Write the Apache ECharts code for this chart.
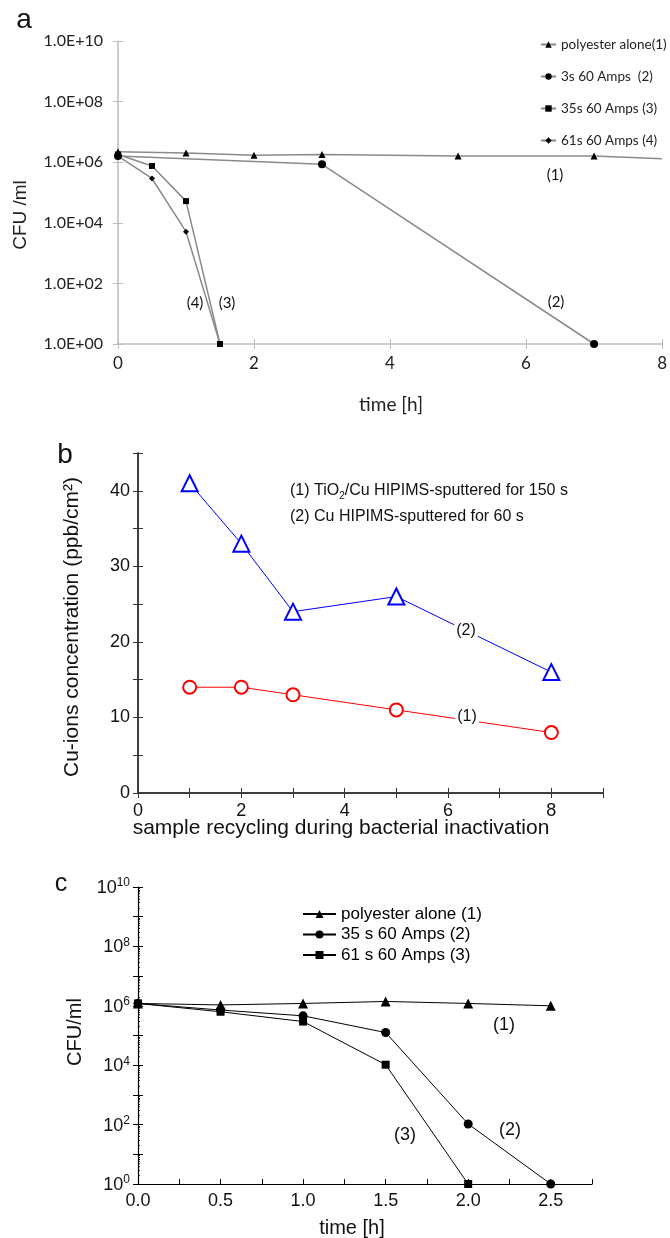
<!DOCTYPE html>
<html><head><meta charset="utf-8">
<script src="https://cdn.jsdelivr.net/npm/echarts@6/dist/echarts.min.js"></script>
<style>html,body{margin:0;padding:0;background:#fff}#chart{width:670px;height:1238px}</style>
</head><body><div id="chart"></div>
<script>
// ---------------- DATA ----------------
// Panel a : CFU/ml vs time [h]
const aNames = ['polyester alone(1)', '3s 60 Amps  (2)', '35s 60 Amps (3)', '61s 60 Amps (4)'];
const aTime1 = [0, 1, 2, 3, 5, 7, 8];
const aCfu1  = [2.2e6, 2.0e6, 1.7e6, 1.8e6, 1.6e6, 1.6e6, 1.3e6];
const aTime2 = [0, 3, 7];
const aCfu2  = [1.6e6, 8.5e5, 1];
const aTime3 = [0, 0.5, 1, 1.5];
const aCfu3  = [1.8e6, 7.5e5, 5.2e4, 1];
const aTime4 = [0, 0.5, 1, 1.5];
const aCfu4  = [1.6e6, 2.9e5, 5.1e3, 1];
const aYTicks = [0, 2, 4, 6, 8, 10];           // exponents labelled 1.0E+xx

// Panel b : Cu-ions concentration vs recycling
const bCycles = [1, 2, 3, 5, 8];
const bTiO2Cu = [14, 14, 13, 11, 8];
const bCu     = [41, 33, 24, 26, 16];

// Panel c : CFU/ml vs time [h]
const cNames = ['polyester alone (1)', '35 s 60 Amps (2)', '61 s 60 Amps (3)'];
const cTime1 = [0, 0.5, 1, 1.5, 2, 2.5];
const cCfu1  = [1.2e6, 1.07e6, 1.2e6, 1.4e6, 1.2e6, 1.0e6];
const cTime2 = [0, 0.5, 1, 1.5, 2, 2.5];
const cCfu2  = [1.2e6, 7.2e5, 4.6e5, 1.26e5, 105, 1];
const cTime3 = [0, 0.5, 1, 1.5, 2];
const cCfu3  = [1.2e6, 6.3e5, 2.95e5, 1.04e4, 1];

// ---------------- HELPERS ----------------
const NARROW = 'Lato,"Liberation Sans",sans-serif';
const SANS = '"Liberation Sans",Arial,Helvetica,sans-serif';
const logPairs = (xs, ys) => xs.map((x, i) => [x, Math.log10(ys[i])]);
const linPairs = (xs, ys) => xs.map((x, i) => [x, ys[i]]);
const minorLogs = [];
for (let d = 0; d < 10; d++) for (let k = 2; k <= 9; k++) minorLogs.push(d + Math.log10(k));

const A_AXIS = '#bdbdbd', A_LINE = '#8a8a8a';
const B_AXIS = '#333';

function aSeries(name, xs, ys, symbol, size, dropLastSymbol) {
  const pts = logPairs(xs, ys);
  const data = pts.map((p, i) => (dropLastSymbol && i === pts.length - 1) ? {value: p, symbol: 'none'} : p);
  return {type: 'line', name, xAxisIndex: 0, yAxisIndex: 0, data, symbol, symbolSize: size,
    lineStyle: {color: A_LINE, width: 1.5}, itemStyle: {color: '#000'}, silent: true, animation: false, z: 3};
}
function cSeries(name, xs, ys, symbol, size) {
  return {type: 'line', name, xAxisIndex: 4, yAxisIndex: 4, data: logPairs(xs, ys), symbol, symbolSize: size,
    lineStyle: {color: '#000', width: 1}, itemStyle: {color: '#000'}, silent: true, animation: false, z: 3};
}
function text(x, y, str, font, size, opts) {
  return Object.assign({type: 'text', x, y, z: 100, silent: true,
    style: Object.assign({text: str, fontFamily: font, fontSize: size, fill: '#111', align: 'center', verticalAlign: 'middle'}, (opts && opts.style) || {})},
    opts && opts.el ? opts.el : {});
}

const chart = echarts.init(document.getElementById('chart'), null, {renderer: 'canvas'});
const option = {
  animation: false,
  backgroundColor: '#fff',
  grid: [
    {left: 118, top: 41, width: 547, height: 303},
    {left: 138, top: 453, width: 465, height: 340},
    {left: 138, top: 887, width: 454, height: 297}
  ],
  xAxis: [
    // a main
    {gridIndex: 0, type: 'value', position: 'bottom', min: 0, max: 8, interval: 2,
      axisLine: {show: true, lineStyle: {color: A_AXIS, width: 1.5}},
      axisTick: {show: true, length: 5, lineStyle: {color: A_AXIS, width: 1}},
      axisLabel: {fontFamily: NARROW, fontSize: 17, color: '#222', margin: 11},
      splitLine: {show: false}},
    // a overlay (inside ticks)
    {gridIndex: 0, type: 'value', position: 'bottom', offset: 0, min: 0, max: 8, interval: 2,
      axisLine: {show: false}, axisTick: {show: true, inside: true, length: 5, lineStyle: {color: A_AXIS, width: 1}},
      axisLabel: {show: false}, splitLine: {show: false}},
    // b bottom
    {gridIndex: 1, type: 'value', position: 'bottom', min: 0, max: 9, interval: 1,
      axisLine: {show: true, lineStyle: {color: B_AXIS, width: 1.5}},
      axisTick: {show: true, inside: true, length: 5, lineStyle: {color: B_AXIS, width: 1}},
      axisLabel: {formatter: v => (v % 2 === 0 ? String(v) : ''), fontFamily: SANS, fontSize: 18, color: '#111', margin: 9},
      splitLine: {show: false}},
    // b top
    {gridIndex: 1, type: 'value', position: 'top', min: 0, max: 9, interval: 1,
      axisLine: {show: true, lineStyle: {color: B_AXIS, width: 1.5}},
      axisTick: {show: true, inside: true, length: 5, lineStyle: {color: B_AXIS, width: 1}},
      axisLabel: {show: false}, splitLine: {show: false}},
    // c
    {gridIndex: 2, type: 'value', position: 'bottom', min: 0, max: 2.75, interval: 0.25,
      axisLine: {show: true, lineStyle: {color: '#000', width: 1.2}},
      axisTick: {show: true, inside: true, length: 5, lineStyle: {color: '#000', width: 1}},
      axisLabel: {formatter: v => (Math.abs(v * 2 - Math.round(v * 2)) < 1e-6 && v <= 2.5001 ? v.toFixed(1) : ''),
        fontFamily: SANS, fontSize: 18, color: '#111', margin: 8},
      splitLine: {show: false}}
  ],
  yAxis: [
    // a main
    {gridIndex: 0, type: 'value', position: 'left', min: 0, max: 10, interval: 2,
      axisLine: {show: true, lineStyle: {color: A_AXIS, width: 1.5}},
      axisTick: {show: true, length: 5, lineStyle: {color: A_AXIS, width: 1}},
      axisLabel: {formatter: v => (aYTicks.indexOf(v) >= 0 ? '1.0E+' + String(v).padStart(2, '0') : ''),
        fontFamily: NARROW, fontSize: 16, color: '#222', margin: 15},
      splitLine: {show: false}},
    // a overlay
    {gridIndex: 0, type: 'value', position: 'left', offset: 0, min: 0, max: 10, interval: 2,
      axisLine: {show: false}, axisTick: {show: true, inside: true, length: 5, lineStyle: {color: A_AXIS, width: 1}},
      axisLabel: {show: false}, splitLine: {show: false}},
    // b left
    {gridIndex: 1, type: 'value', position: 'left', min: 0, max: 45, interval: 5,
      axisLine: {show: true, lineStyle: {color: B_AXIS, width: 1.5}},
      axisTick: {show: true, inside: true, length: 5, lineStyle: {color: B_AXIS, width: 1}},
      axisLabel: {formatter: v => (v % 10 === 0 ? String(v) : ''), fontFamily: SANS, fontSize: 18, color: '#111', margin: 8},
      splitLine: {show: false}},
    // b right
    {gridIndex: 1, type: 'value', position: 'right', min: 0, max: 45, interval: 5,
      axisLine: {show: true, lineStyle: {color: B_AXIS, width: 1.5}},
      axisTick: {show: true, inside: true, length: 5, lineStyle: {color: B_AXIS, width: 1}},
      axisLabel: {show: false}, splitLine: {show: false}},
    // c main
    {gridIndex: 2, type: 'value', position: 'left', min: 0, max: 10, interval: 1,
      axisLine: {show: true, lineStyle: {color: '#000', width: 1.2}},
      axisTick: {show: true, length: 5, lineStyle: {color: '#000', width: 1}},
      axisLabel: {formatter: v => (v % 2 === 0 ? '{b|10}{s|' + v + '}' : ''), margin: 8,
        rich: {b: {fontFamily: SANS, fontSize: 18, color: '#111', lineHeight: 20, verticalAlign: 'bottom'},
               s: {fontFamily: SANS, fontSize: 12, color: '#111', lineHeight: 12, verticalAlign: 'top'}}},
      splitLine: {show: false}},
    // c overlay inside ticks
    {gridIndex: 2, type: 'value', position: 'left', offset: 0, min: 0, max: 10, interval: 1,
      axisLine: {show: false}, axisTick: {show: true, inside: true, length: 5, lineStyle: {color: '#000', width: 1}},
      axisLabel: {show: false}, splitLine: {show: false}},
    // c minor log ticks
    {gridIndex: 2, type: 'value', position: 'left', offset: 0, min: 0, max: 10, interval: 1,
      axisLine: {show: false}, axisTick: {show: true, inside: true, length: 2, customValues: minorLogs, lineStyle: {color: '#000', width: 0.8}},
      axisLabel: {show: false}, splitLine: {show: false}}
  ],
  legend: [
    {data: aNames, orient: 'vertical', left: 535, top: 32, itemWidth: 15, itemHeight: 8, itemGap: 17,
      selectedMode: false, textStyle: {fontFamily: NARROW, fontSize: 13.5, color: '#222', lineHeight: 15}},
    {data: cNames, orient: 'vertical', left: 297, top: 900, itemWidth: 33, itemHeight: 10, itemGap: 2.5,
      selectedMode: false, textStyle: {fontFamily: SANS, fontSize: 17, color: '#000', lineHeight: 18}}
  ],
  series: [
    aSeries(aNames[0], aTime1, aCfu1, 'triangle', 7, true),
    aSeries(aNames[1], aTime2, aCfu2, 'circle', 8, false),
    aSeries(aNames[2], aTime3, aCfu3, 'rect', 6, false),
    aSeries(aNames[3], aTime4, aCfu4, 'diamond', 6, false),
    {type: 'line', name: '(1) TiO2/Cu HIPIMS-sputtered for 150 s', xAxisIndex: 2, yAxisIndex: 2,
      data: linPairs(bCycles, bTiO2Cu), symbol: 'emptyCircle', symbolSize: 13,
      lineStyle: {color: '#ff0000', width: 1}, itemStyle: {color: '#ff0000', borderWidth: 1.2}, silent: true, animation: false},
    {type: 'line', name: '(2) Cu HIPIMS-sputtered for 60 s', xAxisIndex: 2, yAxisIndex: 2,
      data: linPairs(bCycles, bCu), symbol: 'emptyTriangle', symbolSize: 16,
      lineStyle: {color: '#0000ff', width: 1}, itemStyle: {color: '#0000ff', borderWidth: 1.2}, silent: true, animation: false},
    cSeries(cNames[0], cTime1, cCfu1, 'triangle', 10),
    cSeries(cNames[1], cTime2, cCfu2, 'circle', 9),
    cSeries(cNames[2], cTime3, cCfu3, 'rect', 8)
  ],
  graphic: [
    // panel letters
    text(24, 20, 'a', SANS, 28),
    text(65, 455, 'b', SANS, 28),
    text(61, 884, 'c', SANS, 25),
    // panel a titles & annotations
    text(21, 215, 'CFU /ml', SANS, 19, {el: {rotation: Math.PI / 2}, style: {fill: '#222'}}),
    text(391, 405, 'time [h]', NARROW, 19, {style: {fill: '#222'}}),
    text(555, 175, '(1)', NARROW, 15),
    text(556, 302, '(2)', NARROW, 15),
    text(195, 303, '(4)', NARROW, 15),
    text(227, 303, '(3)', NARROW, 15),
    // panel b titles, legend text, annotations
    text(72, 627, 'Cu-ions concentration (ppb/cm²)', SANS, 21, {el: {rotation: Math.PI / 2}}),
    text(341, 828, 'sample recycling during bacterial inactivation', SANS, 21),
    {type: 'text', x: 290, y: 491, z: 100, silent: true,
      style: {text: '{t|(1) TiO}{s|2}{t|/Cu HIPIMS-sputtered for 150 s}', verticalAlign: 'middle', align: 'left',
        rich: {t: {fontFamily: SANS, fontSize: 16, fill: '#111', lineHeight: 20, verticalAlign: 'middle'},
               s: {fontFamily: SANS, fontSize: 10, fill: '#111', lineHeight: 10, verticalAlign: 'bottom'}}}},
    text(290, 517, '(2) Cu HIPIMS-sputtered for 60 s', SANS, 16, {style: {align: 'left'}}),
    text(466, 631, '(2)', SANS, 16, {style: {backgroundColor: '#fff', padding: [1, 2]}}),
    text(467, 717, '(1)', SANS, 16, {style: {backgroundColor: '#fff', padding: [1, 2]}}),
    // panel c titles & annotations
    text(75, 1032, 'CFU/ml', SANS, 20, {el: {rotation: Math.PI / 2}}),
    text(352, 1228, 'time [h]', SANS, 20),
    text(504, 1025, '(1)', SANS, 18),
    text(510, 1130, '(2)', SANS, 18),
    text(405, 1135, '(3)', SANS, 18)
  ]
};
chart.setOption(option);
</script>
</body></html>
